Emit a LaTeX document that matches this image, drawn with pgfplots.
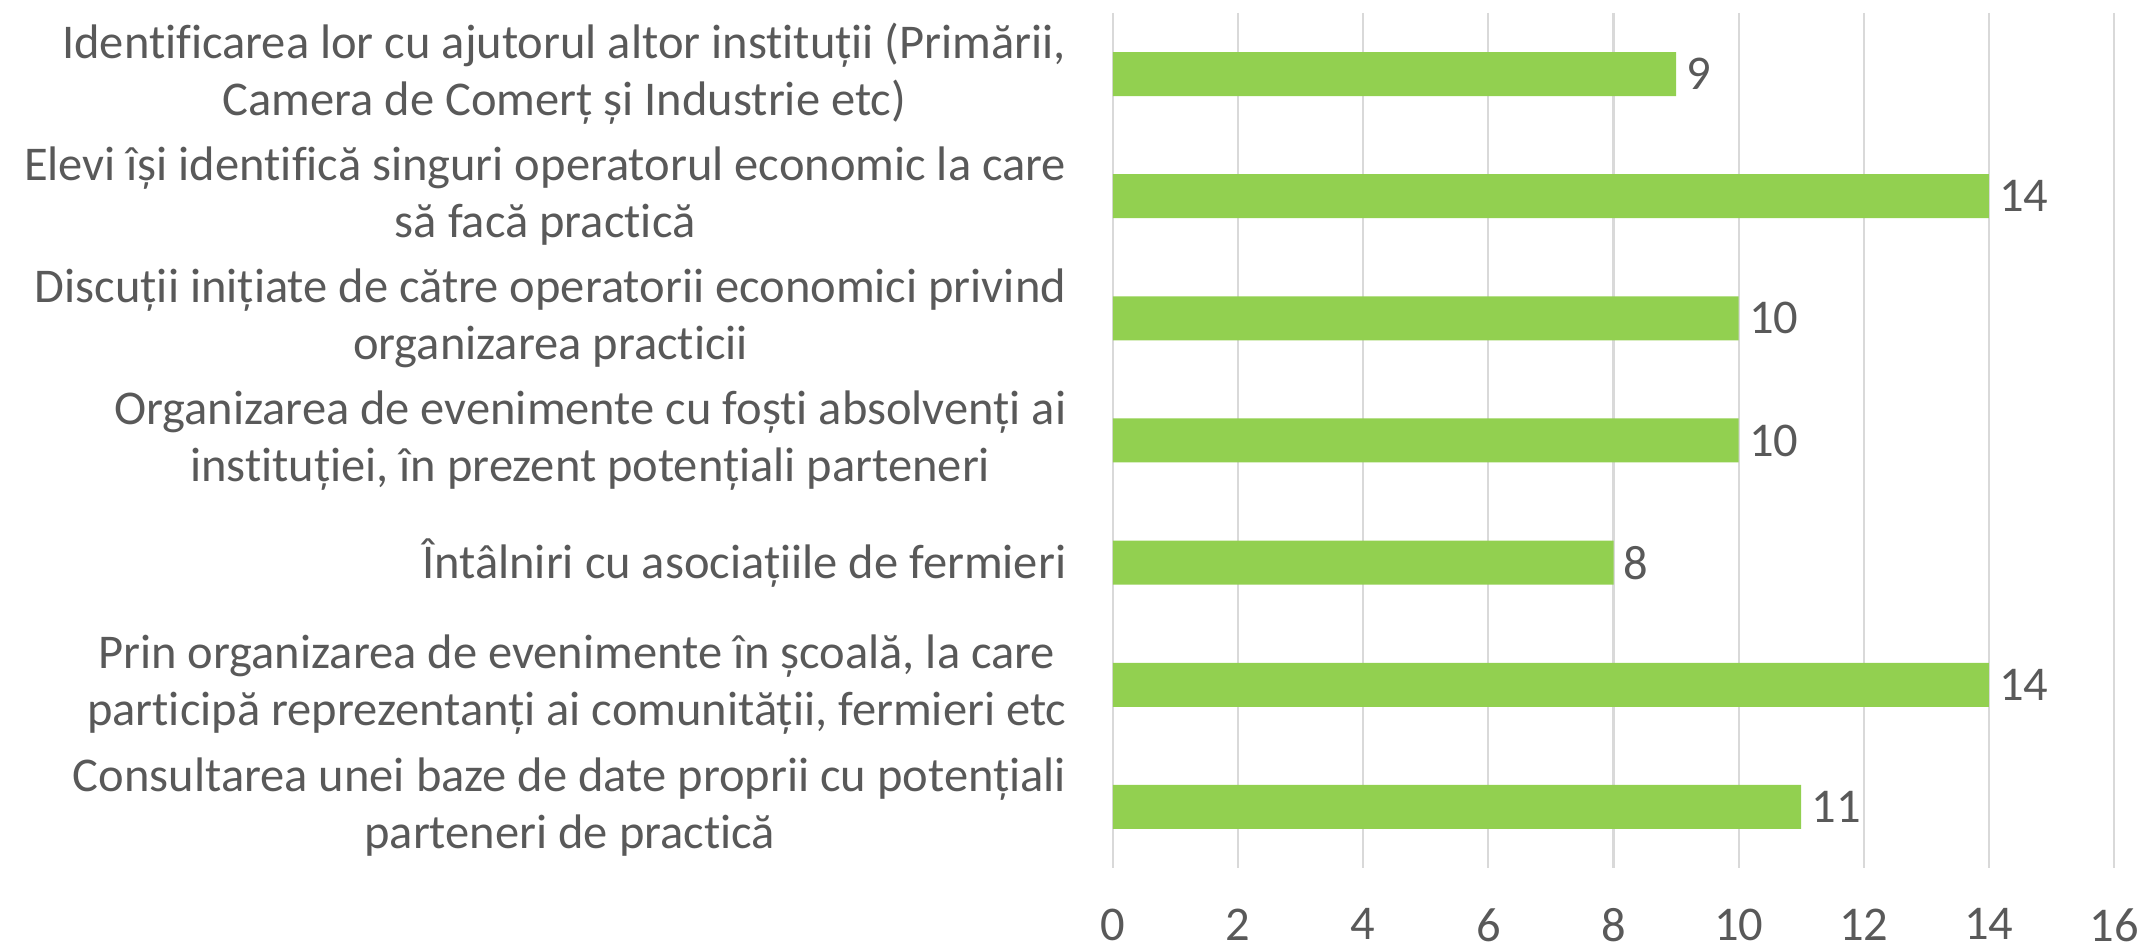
\documentclass[border=0pt]{standalone}
\usepackage{fontspec}
\setmainfont{Carlito}[Ligatures=NoCommon]
\usepackage{pgfplots}
\pgfplotsset{compat=1.18}
\definecolor{bargreen}{HTML}{92D050}
\definecolor{txtgray}{HTML}{595959}
\definecolor{gridgray}{HTML}{D9D9D9}

\begin{document}
\begin{tikzpicture}
\begin{axis}[
    xbar,
    scale only axis,
    width=100.1mm,
    height=85.5mm,
    bar width=4.4mm,
    y dir=reverse,
    xmin=0, xmax=16,
    ymin=-0.5, ymax=6.5,
    xtick={0,2,...,16},
    ytick={0,...,6},
    yticklabels={
        {Identificarea lor cu ajutorul altor instituții (Primării,\\Camera de Comerț și Industrie etc)},
        {Elevi își identifică singuri operatorul economic la care\\să facă practică},
        {Discuții inițiate de către operatorii economici privind\\organizarea practicii},
        {Organizarea de evenimente cu foști absolvenți ai\\instituției, în prezent potențiali parteneri},
        {Întâlniri cu asociațiile de fermieri},
        {Prin organizarea de evenimente în școală, la care\\participă reprezentanți ai comunității, fermieri etc},
        {Consultarea unei baze de date proprii cu potențiali\\parteneri de practică}
    },
    yticklabel style={align=center, font=\fontsize{13.8}{16.2}\selectfont, text=txtgray, inner sep=0pt, xshift=-4.6mm},
    xticklabel style={font=\fontsize{13.8}{16.2}\selectfont, text=txtgray, inner sep=0pt, yshift=-4.0mm},
    /pgf/number format/assume math mode=true,
    axis line style={draw=none},
    major tick length=0pt,
    xmajorgrids,
    major grid style={gridgray, line width=0.6pt},
    nodes near coords,
    nodes near coords style={font=\fontsize{13.8}{16.2}\selectfont, text=txtgray, xshift=-0.2mm},
    clip=false,
]
\addplot[fill=bargreen, draw=none] coordinates {
    (9,0) (14,1) (10,2) (10,3) (8,4) (14,5) (11,6)
};
\end{axis}
% white space around the axis, as in the reference
\path (current axis.north west) ++(-111.3mm,1.3mm);
\path (current axis.south east) ++(3.2mm,-8.4mm);
\end{tikzpicture}
\end{document}
